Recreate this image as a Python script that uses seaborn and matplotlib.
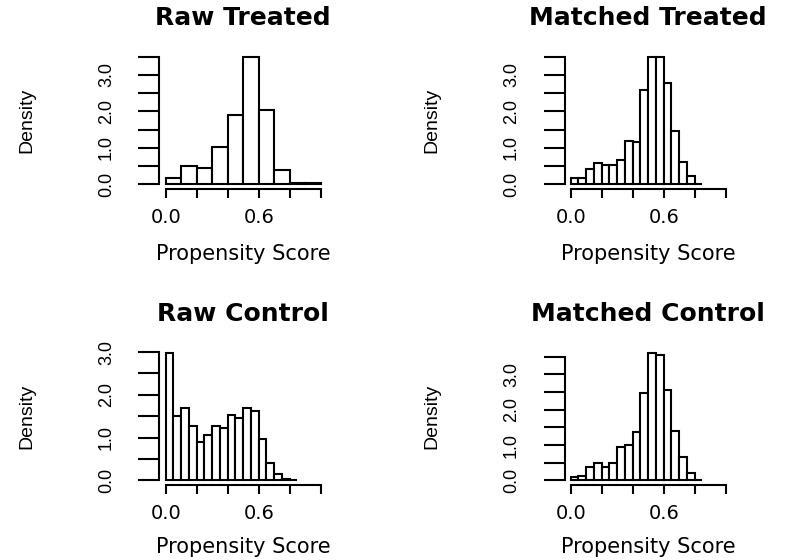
import matplotlib
matplotlib.use("Agg")
import matplotlib.pyplot as plt
import numpy as np
import pandas as pd
import seaborn as sns
from matplotlib import font_manager
from matplotlib.ticker import FixedLocator, FixedFormatter

# histogram bins (density scale, as in R's hist(freq=FALSE))
edges_raw_treated = [0.0, 0.1, 0.2, 0.3, 0.4, 0.5, 0.6, 0.7, 0.8, 0.9, 1.0]
edges_fine = [0.0, 0.05, 0.1, 0.15, 0.2, 0.25, 0.3, 0.35, 0.4, 0.45,
              0.5, 0.55, 0.6, 0.65, 0.7, 0.75, 0.8, 0.85]

raw_treated = [0.155, 0.49, 0.45, 1.03, 1.89, 3.5, 2.04, 0.38, 0.02, 0.02]
matched_treated = [0.155, 0.155, 0.42, 0.57, 0.53, 0.53, 0.66, 1.19, 1.15,
                   2.58, 3.5, 3.5, 2.79, 1.46, 0.62, 0.21, 0.01]
raw_control = [2.98, 1.51, 1.70, 1.28, 0.90, 1.06, 1.26, 1.23, 1.53,
               1.46, 1.69, 1.61, 0.97, 0.40, 0.15, 0.04, 0.01]
matched_control = [0.08, 0.11, 0.39, 0.48, 0.39, 0.48, 0.95, 1.01, 1.37,
                   2.48, 3.61, 3.55, 2.56, 1.40, 0.67, 0.22, 0.02]

titles = ["Raw Treated", "Matched Treated", "Raw Control", "Matched Control"]
x_label = "Propensity Score"
y_label = "Density"
x_ticks = [0.0, 0.2, 0.4, 0.6, 0.8, 1.0]
x_tick_labels = ["0.0", "", "", "0.6", "", ""]
y_ticks = [0.0, 0.5, 1.0, 1.5, 2.0, 2.5, 3.0, 3.5]
y_tick_labels = ["0.0", "", "1.0", "", "2.0", "", "3.0", ""]

panels = [
    (edges_raw_treated, raw_treated),
    (edges_fine, matched_treated),
    (edges_fine, raw_control),
    (edges_fine, matched_control),
]

sns.set_style("ticks", rc={"axes.edgecolor": "black", "xtick.color": "black",
                           "ytick.color": "black", "text.color": "black",
                           "axes.labelcolor": "black"})
plt.rcParams["font.family"] = ["DejaVu Sans"]

names = {f.name for f in font_manager.fontManager.ttflist}
narrow = "Liberation Sans Narrow" if "Liberation Sans Narrow" in names else "Liberation Sans"

W, H = 803, 560
fig = plt.figure(figsize=(W / 100, H / 100), dpi=100)

# plot regions in pixels: left, top, width, height
lefts = [159.5, 564.5]
tops = [51.6, 347.8]
pw, ph = 167.4, 137.6
xlabel_y = [-0.40, -0.378]

for i, ((edges, dens), title) in enumerate(zip(panels, titles)):
    row, col = divmod(i, 2)
    l, t = lefts[col], tops[row]
    ax = fig.add_axes([l / W, (H - t - ph) / H, pw / W, ph / H])

    edges = np.array(edges)
    df = pd.DataFrame({"score": (edges[:-1] + edges[1:]) / 2, "density": dens})
    sns.histplot(data=df, x="score", weights="density",
                 binwidth=edges[1] - edges[0], binrange=(edges[0], edges[-1]),
                 stat="count", color="white", edgecolor="black",
                 linewidth=1.5, alpha=1, ax=ax)

    ymax = max(dens)
    ax.set_xlim(-0.04, 1.04)
    ax.set_ylim(-0.04 * ymax, 1.04 * ymax)

    yt = [v for v in y_ticks if v <= 1.04 * ymax]
    ax.xaxis.set_major_locator(FixedLocator(x_ticks))
    ax.xaxis.set_major_formatter(FixedFormatter(x_tick_labels))
    ax.yaxis.set_major_locator(FixedLocator(yt))
    ax.yaxis.set_major_formatter(FixedFormatter(y_tick_labels[:len(yt)]))

    sns.despine(ax=ax)
    ax.spines["bottom"].set_bounds(x_ticks[0], x_ticks[-1])
    ax.spines["left"].set_bounds(yt[0], yt[-1])
    for s in ("bottom", "left"):
        ax.spines[s].set_linewidth(1.5)

    ax.tick_params(axis="x", length=6.5, width=1.5, pad=7, labelsize=14)
    ax.tick_params(axis="y", length=15, width=1.5, pad=17, labelsize=13,
                   labelrotation=90, labelfontfamily=narrow)
    for lab in ax.get_yticklabels():
        lab.set_verticalalignment("center")

    ax.set_title(title, fontsize=18, fontweight="bold", pad=19.5)
    ax.set_xlabel(x_label, fontsize=15)
    ax.xaxis.set_label_coords(0.5, xlabel_y[row])
    ax.set_ylabel(y_label, fontsize=14, family=narrow)
    ax.yaxis.set_label_coords(-0.79, 0.5)
    ax.yaxis.label.set_verticalalignment("center")

fig.savefig("out.png", dpi=100, facecolor="white")
